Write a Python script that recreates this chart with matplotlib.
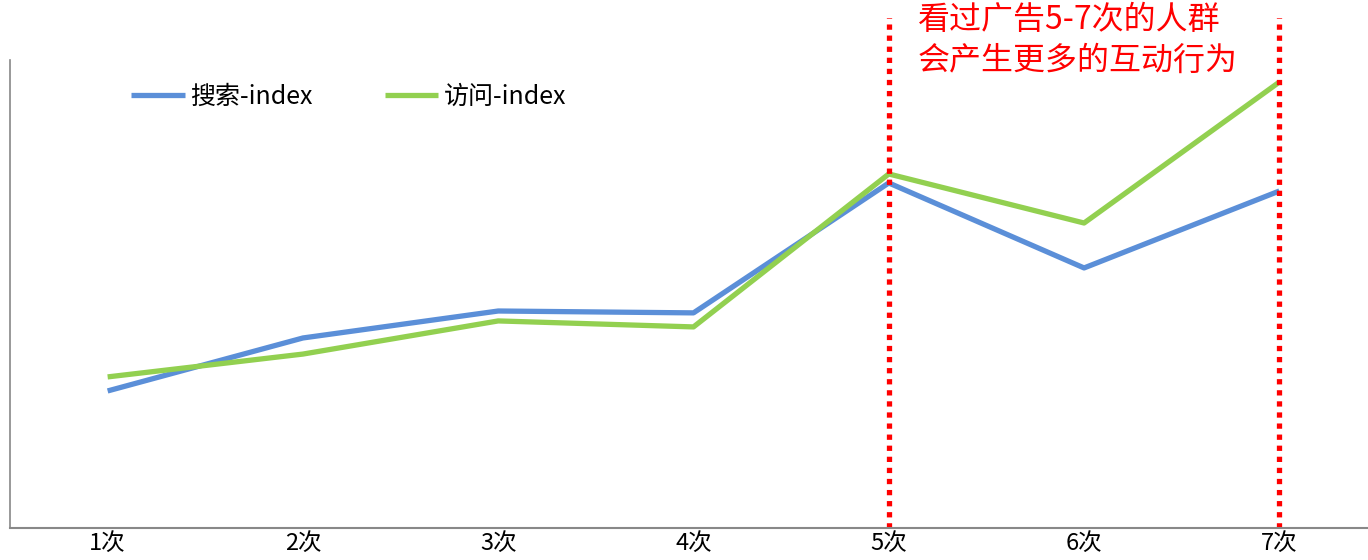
import matplotlib.pyplot as plt

plt.rcParams['font.family'] = ['Noto Sans CJK SC', 'DejaVu Sans']

categories = ['1次', '2次', '3次', '4次', '5次', '6次', '7次']
search_index = [73.2, 101.5, 115.9, 114.9, 184.3, 138.9, 180.0]
visit_index = [80.7, 92.9, 110.6, 107.4, 189.1, 162.9, 238.2]
marked = [5, 7]
note = '看过广告5-7次的人群\n会产生更多的互动行为'

fig = plt.figure(figsize=(13.68, 5.6), dpi=100)
ax = fig.add_axes([10 / 1368, 32 / 560, 1367 / 1368, 510 / 560])

x = range(1, len(categories) + 1)
ax.plot(x, search_index, color='#5B8FD8', lw=3.8, label='搜索-index', solid_capstyle='butt')
ax.plot(x, visit_index, color='#92D050', lw=3.8, label='访问-index', solid_capstyle='butt')

ax.vlines(marked, 0, 274, colors='#FF0000', lw=3.8, linestyles=(0, (1, 1.1)))

ax.set_xlim(0.5, 7.5)
ax.set_ylim(0, 272.4)
ax.set_xticks(list(x))
ax.set_xticklabels(categories, fontsize=17)
ax.tick_params(axis='x', length=0, pad=3)
ax.set_yticks([])

for side in ['top', 'right']:
    ax.spines[side].set_visible(False)
ax.spines['left'].set_bounds(0, 250)
ax.spines['left'].set_color('#888888')
ax.spines['bottom'].set_color('#888888')
ax.spines['left'].set_linewidth(1.2)
ax.spines['bottom'].set_linewidth(1.5)

ax.legend(loc='center left', bbox_to_anchor=(0.072, 0.845), ncol=2, frameon=False,
          fontsize=18, handlelength=2.15, handletextpad=0.2, columnspacing=2.9)

ax.text(918 / 1368, 1 - 4 / 560, note, transform=fig.transFigure, color='#FF0000',
        fontsize=23, va='top', ha='left', linespacing=1.35)

fig.savefig('out.png', dpi=100)
